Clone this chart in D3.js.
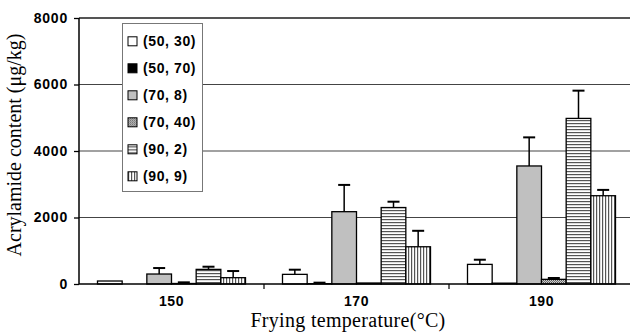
<!DOCTYPE html>
<html><head><meta charset="utf-8">
<script src="https://cdn.jsdelivr.net/npm/d3@7"></script>
<style>html,body{margin:0;padding:0;background:#fff;}svg{display:block;}</style>
</head><body>
<svg id="c" width="630" height="334"></svg>
<script>
const categories = ["150", "170", "190"];
const seriesNames = ["(50, 30)", "(50, 70)", "(70, 8)", "(70, 40)", "(90, 2)", "(90, 9)"];
const s5030 = [90, 290, 590];
const s5070 = [0, 10, 25];
const s708 = [300, 2175, 3550];
const s7040 = [15, 30, 140];
const s902 = [440, 2300, 4980];
const s909 = [190, 1120, 2655];
const e5030 = [null, 430, 730];
const e5070 = [null, 40, null];
const e708 = [480, 2980, 4410];
const e7040 = [50, null, 180];
const e902 = [520, 2475, 5815];
const e909 = [390, 1600, 2830];
const yTicks = [0, 2000, 4000, 6000, 8000];

const values = [s5030, s5070, s708, s7040, s902, s909];
const errs = [e5030, e5070, e708, e7040, e902, e909];
const fills = ["#fff", "#000", "#c0c0c0", "url(#dots)", "url(#hstripe)", "url(#vstripe)"];

const svg = d3.select("#c");
const defs = svg.append("defs");
let p = defs.append("pattern").attr("id","hstripe").attr("patternUnits","userSpaceOnUse").attr("width",4).attr("height",3);
p.append("rect").attr("width",4).attr("height",3).attr("fill","#fff");
p.append("rect").attr("y",0).attr("width",4).attr("height",1.2).attr("fill","#555");
p = defs.append("pattern").attr("id","vstripe").attr("patternUnits","userSpaceOnUse").attr("width",3).attr("height",4);
p.append("rect").attr("width",3).attr("height",4).attr("fill","#fff");
p.append("rect").attr("x",0).attr("width",1.2).attr("height",4).attr("fill","#555");
p = defs.append("pattern").attr("id","dots").attr("patternUnits","userSpaceOnUse").attr("width",2).attr("height",2);
p.append("rect").attr("width",2).attr("height",2).attr("fill","#ccc");
p.append("rect").attr("width",1).attr("height",1).attr("fill","#555");
p.append("rect").attr("x",1).attr("y",1).attr("width",1).attr("height",1).attr("fill","#777");

const x0 = d3.scaleBand().domain(categories).range([79, 634]).paddingInner(0).paddingOuter(0);
const x1 = d3.scaleBand().domain(d3.range(seriesNames.length)).range([0, x0.bandwidth()]).paddingInner(0).paddingOuter(0.75);
const y = d3.scaleLinear().domain([0, 8000]).range([284, 18]);

// gridlines
svg.append("g").selectAll("line").data(yTicks.filter(d => d > 0)).join("line")
  .attr("x1", 79).attr("x2", 634).attr("y1", d => y(d)).attr("y2", d => y(d))
  .attr("stroke", d => d === 8000 ? "#555" : "#444").attr("stroke-width", d => d === 8000 ? 2.2 : 1.1);

// bars
const groups = svg.append("g").selectAll("g").data(categories).join("g")
  .attr("transform", c => `translate(${x0(c)},0)`);
groups.each(function(c, ci) {
  const g = d3.select(this);
  seriesNames.forEach((s, si) => {
    const v = values[si][ci];
    const bx = x1(si), bw = x1.bandwidth();
    if (v > 0) {
      g.append("rect").attr("x", bx).attr("y", y(v)).attr("width", bw).attr("height", y(0) - y(v))
        .attr("fill", fills[si]).attr("stroke", "#000").attr("stroke-width", 1.3);
    }
    const e = errs[si][ci];
    if (e != null) {
      const cx = bx + bw / 2;
      g.append("line").attr("x1", cx).attr("x2", cx).attr("y1", y(v)).attr("y2", y(e)).attr("stroke", "#000").attr("stroke-width", 1.5);
      g.append("line").attr("x1", cx - 6).attr("x2", cx + 6).attr("y1", y(e)).attr("y2", y(e)).attr("stroke", "#000").attr("stroke-width", 2);
    }
  });
});

const sans = "Liberation Sans, Arial, sans-serif";
// y axis
const yAxis = svg.append("g").attr("transform", "translate(79,0)")
  .call(d3.axisLeft(y).tickValues(yTicks).tickSize(5).tickPadding(6).tickFormat(d3.format("d")));
yAxis.select(".domain").attr("stroke", "#000").attr("stroke-width", 1.5).attr("d", `M0,${y(8000)}V${y(0)}`);
yAxis.selectAll(".tick line").attr("stroke", "#000").attr("stroke-width", 1.3);
yAxis.selectAll("text").attr("font-family", sans).attr("font-weight", "bold").attr("font-size", 14)
  .attr("letter-spacing", "0.8px").attr("fill", "#000");

// x axis
const xAxis = svg.append("g").attr("transform", "translate(0,284)")
  .call(d3.axisBottom(x0).tickSize(0).tickPadding(12));
xAxis.select(".domain").attr("stroke", "#000").attr("stroke-width", 1.6).attr("d", "M79,0H634");
xAxis.selectAll("text").attr("font-family", sans).attr("font-weight", "bold").attr("font-size", 14)
  .attr("letter-spacing", "0.6px").attr("fill", "#000");
svg.append("g").selectAll("line").data(categories.slice(1)).join("line")
  .attr("x1", c => x0(c)).attr("x2", c => x0(c)).attr("y1", 284).attr("y2", 289)
  .attr("stroke", "#000").attr("stroke-width", 1.2);

// axis titles
svg.append("text").attr("x", 348).attr("y", 327).attr("text-anchor", "middle")
  .attr("font-family", "Liberation Serif, Times New Roman, serif").attr("font-size", 20).attr("letter-spacing", "0.3px").text("Frying temperature(°C)");
svg.append("text").attr("transform", "translate(21,145) rotate(-90)").attr("text-anchor", "middle")
  .attr("font-family", "Liberation Serif, Times New Roman, serif").attr("font-size", 20).text("Acrylamide content (μg/kg)");

// legend
const lg = svg.append("g");
lg.append("rect").attr("x", 122.5).attr("y", 23.5).attr("width", 80).attr("height", 168)
  .attr("fill", "#fff").attr("stroke", "#777").attr("stroke-width", 1);
const items = lg.selectAll("g").data(seriesNames).join("g")
  .attr("transform", (d, i) => `translate(128,${41.3 + i * 27})`);
items.append("rect").attr("x", 0).attr("y", -4.5).attr("width", 9).attr("height", 9)
  .attr("fill", (d, i) => fills[i]).attr("stroke", "#000").attr("stroke-width", 1);
items.append("text").attr("x", 15).attr("y", 0).attr("dy", "0.36em")
  .attr("font-family", sans).attr("font-weight", "bold").attr("font-size", 14)
  .attr("letter-spacing", "0.6px").text(d => d);
</script>
</body></html>
